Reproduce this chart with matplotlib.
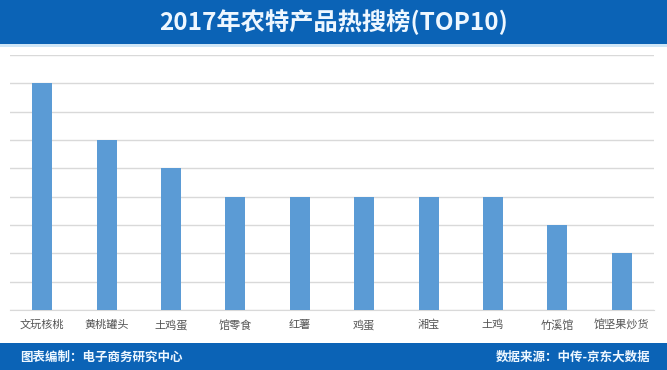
import matplotlib
matplotlib.use("Agg")
import matplotlib.pyplot as plt
from matplotlib.patches import Rectangle

plt.rcParams['font.family'] = ['Noto Sans CJK SC', 'DejaVu Sans']

categories = ["文玩核桃", "黄桃罐头", "土鸡蛋", "馆零食", "红薯", "鸡蛋", "湘宝", "土鸡", "竹溪馆", "馆坚果炒货"]
values = [8, 6, 5, 4, 4, 4, 4, 4, 3, 2]
title = "2017年农特产品热搜榜(TOP10)"
footer_left = "图表编制：电子商务研究中心"
footer_right = "数据来源：中传-京东大数据"

W, H = 667, 370
fig = plt.figure(figsize=(W / 100, H / 100), dpi=100)
fig.patch.set_facecolor("white")

banner_color = "#0b63b6"
# Title banner
fig.patches.append(Rectangle((0, 1 - 44 / H), 1, 44 / H, transform=fig.transFigure,
                             facecolor=banner_color, edgecolor="none", zorder=0))
fig.patches.append(Rectangle((0, 1 - 47 / H), 1, 3 / H, transform=fig.transFigure,
                             facecolor="#cfe6f7", edgecolor="none", zorder=0))
fig.text(0.5, 1 - 22 / H, title, ha="center", va="center", color="#eef7ff",
         fontsize=17.5, fontweight="bold")

# Footer banner
fig.patches.append(Rectangle((0, 0), 1, 27 / H, transform=fig.transFigure,
                             facecolor=banner_color, edgecolor="none", zorder=0))
fig.text(20 / W, 13 / H, footer_left, ha="left", va="center", color="#eef7ff",
         fontsize=9, fontweight="bold")
fig.text(650 / W, 13 / H, footer_right, ha="right", va="center", color="#eef7ff",
         fontsize=9, fontweight="bold")

ax = fig.add_axes([10 / W, 60 / H, 644 / W, 255 / H])
x = list(range(len(categories)))
ax.bar(x, values, width=0.31, color="#5b9bd5", zorder=3)
ax.set_xlim(-0.5, len(categories) - 0.5)
ax.set_ylim(0, 9)
ax.set_yticks(range(0, 10))
ax.yaxis.grid(True, color="#d9d9d9", linewidth=1, zorder=0)
ax.tick_params(axis="y", left=False, labelleft=False)
ax.tick_params(axis="x", length=0, pad=7)
ax.set_xticks(x)
ax.set_xticklabels(categories, fontsize=8, color="#555555")
for s in ["top", "right", "left"]:
    ax.spines[s].set_visible(False)
ax.spines["bottom"].set_color("#d9d9d9")
ax.set_facecolor("white")

fig.savefig("out.png", dpi=100)
